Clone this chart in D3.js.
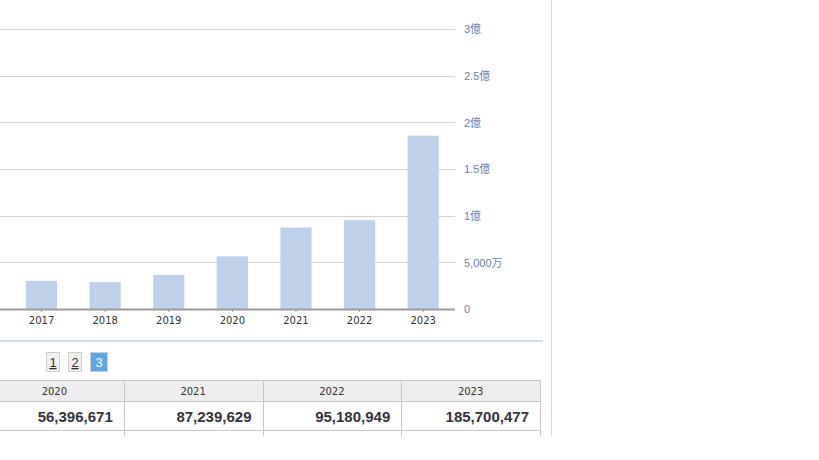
<!DOCTYPE html>
<html lang="ja">
<head>
<meta charset="UTF-8">
<title>売上推移</title>
<script src="https://d3js.org/d3.v7.min.js"></script>
<style>
    html, body { margin: 0; padding: 0; background: #fff; overflow: hidden; }
    svg { display: block; font-family: "Liberation Sans", Arial, "Noto Sans CJK JP", sans-serif; }
</style>
</head>
<body>
<svg width="819" height="460"></svg>
<script>
// chart data (2020-2023 from the table)
const years = ["2017", "2018", "2019", "2020", "2021", "2022", "2023"];
const values = [30100000, 29000000, 36600000, 56396671, 87239629, 95180949, 185700477];
const yTicks = [0, 50000000, 100000000, 150000000, 200000000, 250000000, 300000000];
const yTickLabels = ["0", "5,000万", "1億", "1.5億", "2億", "2.5億", "3億"];

// table on page 3
const tableYears = ["2020", "2021", "2022", "2023"];
const tableValues = [56396671, 87239629, 95180949, 185700477];
const pages = ["1", "2", "3"];
const currentPage = "3";

const svg = d3.select("svg");

const x = d3.scaleBand()
    .domain(years)
    .range([9.7, 455])
    .paddingInner(0.51)
    .paddingOuter(0.255);

const y = d3.scaleLinear()
    .domain([0, 300000000])
    .range([309, 29]);

// gridlines
svg.append("g")
    .selectAll("line")
    .data(yTicks.slice(1))
    .join("line")
    .attr("x1", 0)
    .attr("x2", 455)
    .attr("y1", d => Math.round(y(d)) + 0.5)
    .attr("y2", d => Math.round(y(d)) + 0.5)
    .attr("stroke", "#d4d4d4");

// right axis labels
svg.append("g")
    .selectAll("text")
    .data(yTicks)
    .join("text")
    .attr("x", 464)
    .attr("y", d => y(d) + 1.5)
    .attr("dominant-baseline", "middle")
    .attr("font-size", "11px")
    .attr("fill", "#6c7fae")
    .text((d, i) => yTickLabels[i]);

// bars
svg.append("g")
    .selectAll("rect")
    .data(values)
    .join("rect")
    .attr("x", (d, i) => x(years[i]))
    .attr("width", x.bandwidth())
    .attr("y", d => y(d))
    .attr("height", d => y(0) - y(d))
    .attr("fill", "#bfd0eb");

// x axis
const xAxis = svg.append("g")
    .attr("transform", "translate(0,309)")
    .call(d3.axisBottom(x).tickSize(3).tickPadding(5));
xAxis.select(".domain").remove();
xAxis.selectAll(".tick line").attr("stroke", "#999");
xAxis.selectAll(".tick text")
    .attr("font-size", "10px")
    .attr("fill", "#333")
    .attr("font-family", "'DejaVu Sans', sans-serif");
svg.append("line")
    .attr("x1", 0).attr("x2", 455)
    .attr("y1", 309.5).attr("y2", 309.5)
    .attr("stroke", "#999")
    .attr("stroke-width", 2);

// separator under the chart and right border
svg.append("rect")
    .attr("x", 0).attr("y", 340)
    .attr("width", 543).attr("height", 2)
    .attr("fill", "#d3dce9");
svg.append("line")
    .attr("x1", 551.5).attr("x2", 551.5)
    .attr("y1", 0).attr("y2", 436)
    .attr("stroke", "#d3dae4");

// pagination
const pageX = d3.scaleOrdinal().domain(pages).range([46, 68, 90]);
const pageW = d3.scaleOrdinal().domain(pages).range([13, 13, 17]);
const pg = svg.append("g")
    .selectAll("g")
    .data(pages)
    .join("g")
    .attr("transform", d => `translate(${pageX(d)},352)`);
pg.append("rect")
    .attr("x", 0.5).attr("y", 0.5)
    .attr("width", d => pageW(d))
    .attr("height", 19)
    .attr("fill", d => d === currentPage ? "#5ea5e3" : "#f1f1f1")
    .attr("stroke", "#cccccc");
pg.append("text")
    .attr("x", d => pageW(d) / 2 + 0.5)
    .attr("y", 15)
    .attr("text-anchor", "middle")
    .attr("font-size", "13px")
    .attr("fill", d => d === currentPage ? "#fff" : "#333")
    .attr("text-decoration", d => d === currentPage ? "none" : "underline")
    .text(d => d);

// table
const col = d3.scaleBand().domain(tableYears).range([-15, 540]);
const table = svg.append("g");
table.append("rect")
    .attr("x", -15).attr("y", 380)
    .attr("width", 555).attr("height", 22)
    .attr("fill", "#eeeeee");
// horizontal borders
table.selectAll("line.h")
    .data([380.5, 401.5, 430.5])
    .join("line")
    .attr("class", "h")
    .attr("x1", 0).attr("x2", 540.5)
    .attr("y1", d => d).attr("y2", d => d)
    .attr("stroke", "#c6c6c6");
// vertical borders
table.selectAll("line.v")
    .data(tableYears.slice(1).concat(["end"]))
    .join("line")
    .attr("class", "v")
    .attr("x1", d => d === "end" ? 540.5 : Math.round(col(d)) + 0.5)
    .attr("x2", d => d === "end" ? 540.5 : Math.round(col(d)) + 0.5)
    .attr("y1", 380).attr("y2", 436)
    .attr("stroke", "#c6c6c6");
table.selectAll("text.head")
    .data(tableYears)
    .join("text")
    .attr("class", "head")
    .attr("x", d => col(d) + col.bandwidth() / 2)
    .attr("y", 395)
    .attr("text-anchor", "middle")
    .attr("font-size", "10px")
    .attr("fill", "#333")
    .attr("font-family", "'DejaVu Sans', sans-serif")
    .text(d => d);
table.selectAll("text.val")
    .data(tableValues)
    .join("text")
    .attr("class", "val")
    .attr("x", (d, i) => col(tableYears[i]) + col.bandwidth() - 11)
    .attr("y", 422)
    .attr("text-anchor", "end")
    .attr("font-size", "15px")
    .attr("font-weight", "bold")
    .attr("fill", "#333340")
    .text(d => d3.format(",")(d));
</script>
</body>
</html>
